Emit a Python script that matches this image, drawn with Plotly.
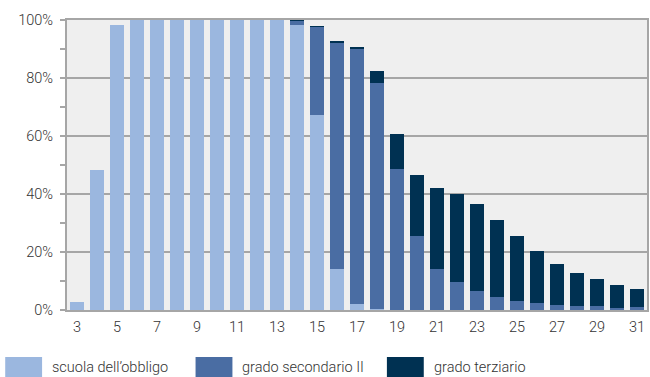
import plotly.graph_objects as go

ages = list(range(3, 32))
obbligo = [2.6, 48.4, 98.3, 100, 100, 100, 100, 100, 100, 100, 100, 98.2, 67.3, 14.0, 2.0,
           0.2, 0.1, 0.1, 0.1, 0.1, 0.1, 0.1, 0.1, 0.1, 0.1, 0.1, 0.1, 0.1, 0.1]
secondario = [0, 0, 0, 0, 0, 0, 0, 0, 0, 0, 0, 1.5, 30.4, 78.4, 88.0,
              78.1, 48.6, 25.3, 14.2, 9.4, 6.3, 4.3, 2.9, 2.2, 1.5, 1.2, 1.2, 0.5, 0.8]
terziario = [0, 0, 0, 0, 0, 0, 0, 0, 0, 0, 0, 0.3, 0.2, 0.2, 0.4,
             4.2, 12.1, 21.3, 27.6, 30.6, 30.3, 26.8, 22.4, 17.9, 14.1, 11.6, 9.3, 7.9, 6.2]
series_names = ["scuola dell\u2019obbligo", "grado secondario II", "grado terziario"]
colors = ["#9BB7DF", "#4A6DA3", "#003152"]
tick_ages = list(range(3, 32, 2))
y_ticks = [0, 20, 40, 60, 80, 100]

fig = go.Figure()
for name, vals, c in zip(series_names, [obbligo, secondario, terziario], colors):
    fig.add_trace(go.Bar(x=ages, y=vals, name=name, marker=dict(color=c, line=dict(width=0)),
                         showlegend=False, hoverinfo="skip"))

font = dict(family="Roboto", size=14.5, color="#333333", weight=300)

fig.update_layout(
    barmode="stack", bargap=0.3,
    width=650, height=377,
    margin=dict(l=67, r=1, t=20, b=67),
    plot_bgcolor="#EFEFEF", paper_bgcolor="white",
    font=font,
    xaxis=dict(range=[2.5, 31.5], tickvals=tick_ages, ticktext=[str(a) for a in tick_ages],
               showgrid=False, showline=True, linecolor="#A6A6A6", linewidth=2, mirror=True,
               ticks="", tickfont=font, zeroline=False, ticklabelstandoff=3),
    yaxis=dict(range=[0, 100], tickvals=y_ticks, ticktext=[f"{v}%" for v in y_ticks],
               showgrid=True, gridcolor="#A6A6A6", gridwidth=1.5,
               showline=True, linecolor="#A6A6A6", linewidth=2, mirror=True,
               ticks="outside", ticklen=5, tickcolor="#A6A6A6", tickwidth=1.5,
               minor=dict(dtick=10, ticks="outside", ticklen=5, tickcolor="#A6A6A6", tickwidth=1.5, showgrid=False),
               tickfont=font, zeroline=False, ticklabelstandoff=4),
)

# Manual legend with wide swatches
sw_x = [5, 196, 388]
for xpx, name, c in zip(sw_x, series_names, colors):
    fig.add_shape(type="rect", xref="paper", yref="paper",
                  x0=(xpx - 67) / 582, x1=(xpx + 37 - 67) / 582,
                  y0=(310 - 377) / 290, y1=(310 - 357) / 290,
                  fillcolor=c, line=dict(width=0))
    fig.add_annotation(xref="paper", yref="paper", x=(xpx + 45 - 67) / 582, y=(310 - 367) / 290,
                       text=name, showarrow=False, xanchor="left", yanchor="middle",
                       font=dict(family="Roboto", size=14.5, color="#333333", weight=300))

fig.write_html("out.html", config={"displayModeBar": False},
               post_script="document.body.style.margin='0';document.body.style.overflow='hidden';")
